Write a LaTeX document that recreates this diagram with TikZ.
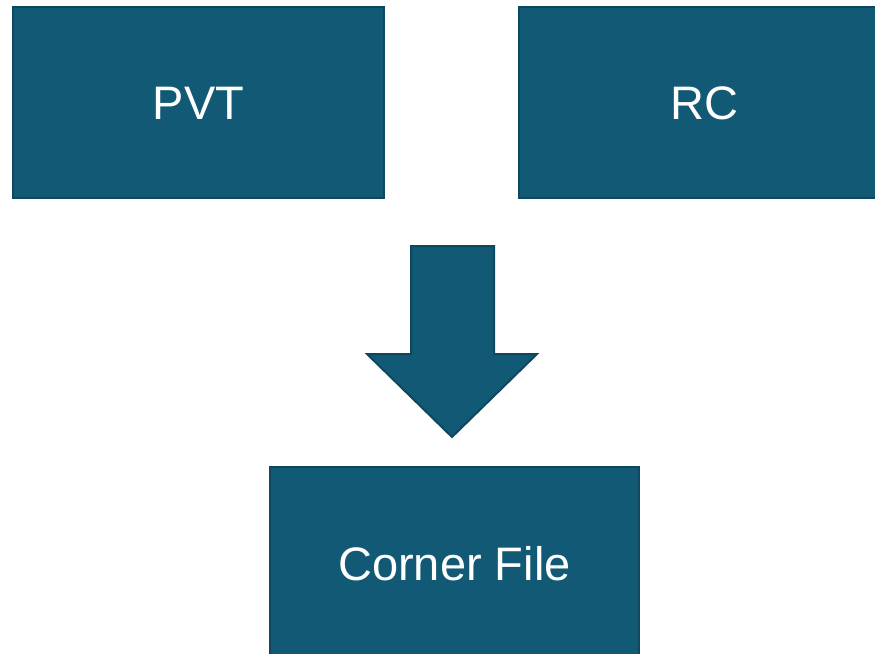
\documentclass[tikz,border=0pt]{standalone}
\usepackage{fontspec}
\setmainfont{Liberation Sans}
\definecolor{boxfill}{RGB}{17,89,116}
\definecolor{boxline}{RGB}{14,72,94}
\begin{document}
\begin{tikzpicture}[x=1pt,y=-1pt,
  blk/.style={fill=boxfill,draw=boxline,line width=2pt},
  lbl/.style={text=white,font=\fontsize{47}{56}\selectfont}]
\useasboundingbox (0,0) rectangle (875,653);
\clip (0,0) rectangle (875,653);
\draw[blk] (13,7) rectangle (384,198);
\node[lbl] (pvt) at (198.5,103) {PVT};
\draw[blk] (519,7) rectangle (885,198);
\node[lbl] (rc) at (704,103) {RC};
\draw[blk] (411,246) -- (494,246) -- (494,354) -- (537,354) -- (452,437) -- (367,354) -- (411,354) -- cycle;
\draw[blk] (270,467) rectangle (639,665);
\node[lbl] (cf) at (454.5,564) {Corner File};
\end{tikzpicture}
\end{document}
